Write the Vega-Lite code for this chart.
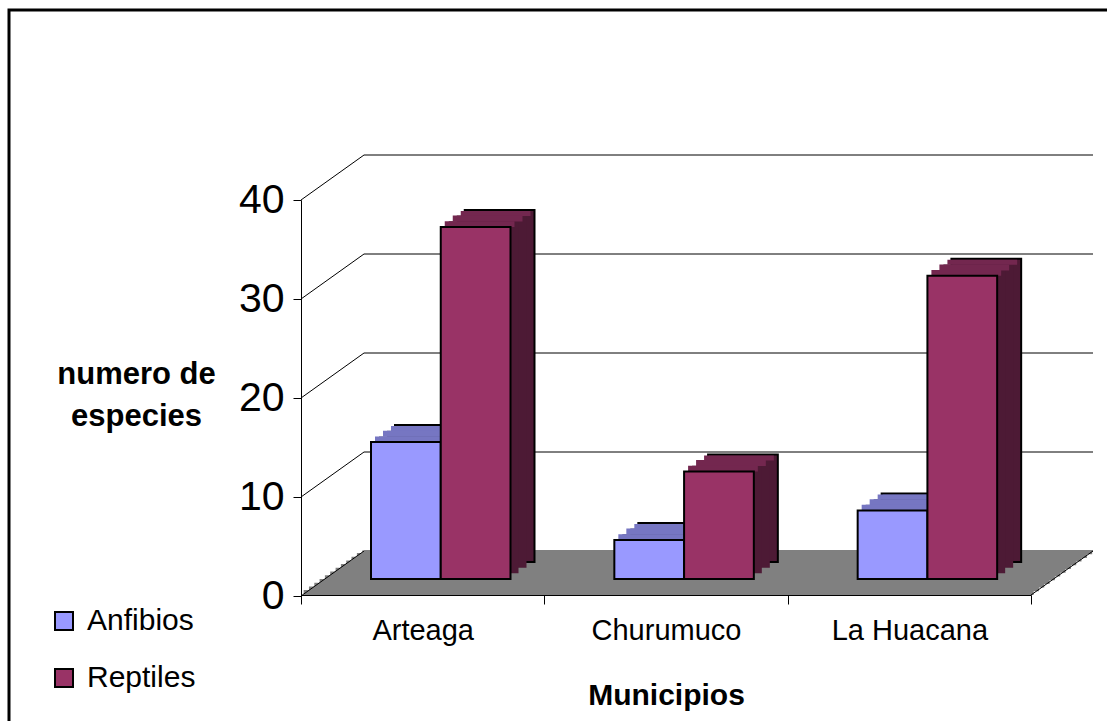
{
  "$schema": "https://vega.github.io/schema/vega-lite/v6.json",
  "autosize": {"type": "none"},
  "padding": {"left": 9, "top": 10, "right": -4, "bottom": -4},
  "width": 1102,
  "height": 715,
  "background": "white",
  "config": {
    "font": "Liberation Sans",
    "view": {"stroke": "black", "strokeWidth": 3}
  },
  "datasets": {
    "main": [
      {"municipio": "Arteaga", "serie": "Anfibios", "especies": 14},
      {"municipio": "Arteaga", "serie": "Reptiles", "especies": 36},
      {"municipio": "Churumuco", "serie": "Anfibios", "especies": 4},
      {"municipio": "Churumuco", "serie": "Reptiles", "especies": 11},
      {"municipio": "La Huacana", "serie": "Anfibios", "especies": 7},
      {"municipio": "La Huacana", "serie": "Reptiles", "especies": 31}
    ],
    "ticks": [{"v": 0}, {"v": 10}, {"v": 20}, {"v": 30}, {"v": 40}],
    "one": [{"k": 1}]
  },
  "layer": [
    {
      "layer": [
        {
          "data": {"name": "ticks"},
          "mark": {"type": "rule", "stroke": "black", "strokeWidth": 1, "xOffset": 63, "x2Offset": 62, "yOffset": -45},
          "encoding": {
            "x": {
              "datum": "Arteaga", "bandPosition": 0,
              "scale": {"type": "band", "domain": ["Arteaga", "Churumuco", "La Huacana"], "range": [292, 1022], "paddingInner": 0, "paddingOuter": 0},
              "axis": {
                "orient": "bottom", "offset": -130, "title": "Municipios",
                "titleFontSize": 30, "titleFontWeight": "bold", "titleColor": "black",
                "titleY": 109, "titleBaseline": "alphabetic",
                "labelFontSize": 29, "labelColor": "black", "labelPadding": 12, "labelAngle": 0,
                "tickBand": "extent",
                "tickSize": 9, "tickColor": "black", "domainColor": "black", "domainWidth": 1,
                "grid": false, "zindex": 1
              }
            },
            "x2": {"datum": "La Huacana", "bandPosition": 1},
            "y": {
              "field": "v", "type": "quantitative",
              "scale": {"domain": [0, 40], "range": [586, 190], "nice": false, "zero": false},
              "axis": {
                "orient": "left", "offset": -292, "values": [0, 10, 20, 30, 40],
                "title": ["numero de", "especies"], "titleAngle": 0, "titleAlign": "center",
                "titleBaseline": "alphabetic", "titleX": -165, "titleY": 373,
                "titleFontSize": 31, "titleFontWeight": "bold", "titleLineHeight": 42, "titleColor": "black",
                "labelFontSize": 41, "labelPadding": 9, "labelColor": "black",
                "tickSize": 8, "tickColor": "black", "domainColor": "black",
                "grid": false, "zindex": 1
              }
            }
          }
        },
        {"data": {"name": "one"}, "mark": {"type": "rect", "fill": "#808080", "xOffset": 2.65, "x2Offset": 2.65, "yOffset": -5.9, "y2Offset": -1},
         "encoding": {"x": {"datum": "Arteaga", "bandPosition": 0}, "x2": {"datum": "La Huacana", "bandPosition": 1}, "y": {"datum": 0, "type": "quantitative"}, "y2": {"datum": 0}}},
        {"data": {"name": "one"}, "mark": {"type": "rect", "fill": "#808080", "xOffset": 7.95, "x2Offset": 7.95, "yOffset": -9.6, "y2Offset": -4.7},
         "encoding": {"x": {"datum": "Arteaga", "bandPosition": 0}, "x2": {"datum": "La Huacana", "bandPosition": 1}, "y": {"datum": 0, "type": "quantitative"}, "y2": {"datum": 0}}},
        {"data": {"name": "one"}, "mark": {"type": "rect", "fill": "#808080", "xOffset": 13.3, "x2Offset": 13.3, "yOffset": -13.3, "y2Offset": -8.4},
         "encoding": {"x": {"datum": "Arteaga", "bandPosition": 0}, "x2": {"datum": "La Huacana", "bandPosition": 1}, "y": {"datum": 0, "type": "quantitative"}, "y2": {"datum": 0}}},
        {"data": {"name": "one"}, "mark": {"type": "rect", "fill": "#808080", "xOffset": 18.6, "x2Offset": 18.6, "yOffset": -17.0, "y2Offset": -12.1},
         "encoding": {"x": {"datum": "Arteaga", "bandPosition": 0}, "x2": {"datum": "La Huacana", "bandPosition": 1}, "y": {"datum": 0, "type": "quantitative"}, "y2": {"datum": 0}}},
        {"data": {"name": "one"}, "mark": {"type": "rect", "fill": "#808080", "xOffset": 23.9, "x2Offset": 23.9, "yOffset": -20.7, "y2Offset": -15.8},
         "encoding": {"x": {"datum": "Arteaga", "bandPosition": 0}, "x2": {"datum": "La Huacana", "bandPosition": 1}, "y": {"datum": 0, "type": "quantitative"}, "y2": {"datum": 0}}},
        {"data": {"name": "one"}, "mark": {"type": "rect", "fill": "#808080", "xOffset": 29.2, "x2Offset": 29.2, "yOffset": -24.4, "y2Offset": -19.5},
         "encoding": {"x": {"datum": "Arteaga", "bandPosition": 0}, "x2": {"datum": "La Huacana", "bandPosition": 1}, "y": {"datum": 0, "type": "quantitative"}, "y2": {"datum": 0}}},
        {"data": {"name": "one"}, "mark": {"type": "rect", "fill": "#808080", "xOffset": 34.6, "x2Offset": 34.6, "yOffset": -28.2, "y2Offset": -23.2},
         "encoding": {"x": {"datum": "Arteaga", "bandPosition": 0}, "x2": {"datum": "La Huacana", "bandPosition": 1}, "y": {"datum": 0, "type": "quantitative"}, "y2": {"datum": 0}}},
        {"data": {"name": "one"}, "mark": {"type": "rect", "fill": "#808080", "xOffset": 39.9, "x2Offset": 39.9, "yOffset": -31.9, "y2Offset": -27.0},
         "encoding": {"x": {"datum": "Arteaga", "bandPosition": 0}, "x2": {"datum": "La Huacana", "bandPosition": 1}, "y": {"datum": 0, "type": "quantitative"}, "y2": {"datum": 0}}},
        {"data": {"name": "one"}, "mark": {"type": "rect", "fill": "#808080", "xOffset": 45.2, "x2Offset": 45.2, "yOffset": -35.6, "y2Offset": -30.7},
         "encoding": {"x": {"datum": "Arteaga", "bandPosition": 0}, "x2": {"datum": "La Huacana", "bandPosition": 1}, "y": {"datum": 0, "type": "quantitative"}, "y2": {"datum": 0}}},
        {"data": {"name": "one"}, "mark": {"type": "rect", "fill": "#808080", "xOffset": 50.5, "x2Offset": 50.5, "yOffset": -39.3, "y2Offset": -34.4},
         "encoding": {"x": {"datum": "Arteaga", "bandPosition": 0}, "x2": {"datum": "La Huacana", "bandPosition": 1}, "y": {"datum": 0, "type": "quantitative"}, "y2": {"datum": 0}}},
        {"data": {"name": "one"}, "mark": {"type": "rect", "fill": "#808080", "xOffset": 55.9, "x2Offset": 55.9, "yOffset": -43.0, "y2Offset": -38.1},
         "encoding": {"x": {"datum": "Arteaga", "bandPosition": 0}, "x2": {"datum": "La Huacana", "bandPosition": 1}, "y": {"datum": 0, "type": "quantitative"}, "y2": {"datum": 0}}},
        {"data": {"name": "one"}, "mark": {"type": "rect", "fill": "#808080", "xOffset": 61.2, "x2Offset": 61.2, "yOffset": -45.5, "y2Offset": -41.8},
         "encoding": {"x": {"datum": "Arteaga", "bandPosition": 0}, "x2": {"datum": "La Huacana", "bandPosition": 1}, "y": {"datum": 0, "type": "quantitative"}, "y2": {"datum": 0}}},
        {
          "data": {"name": "ticks"},
          "mark": {"type": "rule", "stroke": "black", "strokeWidth": 1, "x2Offset": 63, "y2Offset": -45},
          "encoding": {
            "x": {"datum": "Arteaga", "bandPosition": 0},
            "x2": {"datum": "Arteaga", "bandPosition": 0},
            "y": {"field": "v", "type": "quantitative"},
            "y2": {"field": "v"}
          }
        },
        {
          "data": {"name": "one"},
          "mark": {"type": "rule", "stroke": "black", "strokeWidth": 1, "x2Offset": 62, "yOffset": -1, "y2Offset": -45},
          "encoding": {
            "x": {"datum": "La Huacana", "bandPosition": 1},
            "x2": {"datum": "La Huacana", "bandPosition": 1},
            "y": {"datum": 0, "type": "quantitative"},
            "y2": {"datum": 0}
          }
        }
      ]
    },
    {
      "data": {"name": "main"},
      "layer": [
        {
          "mark": {"type": "bar", "stroke": "black", "strokeWidth": 2, "yOffset": -17, "y2Offset": -17},
          "encoding": {
            "x": {"field": "municipio", "type": "nominal"},
            "xOffset": {"field": "serie", "type": "nominal", "scale": {"domain": ["Anfibios", "Reptiles"], "range": [94, 233.5], "paddingInner": 0, "paddingOuter": 0}},
            "y": {"field": "especies", "type": "quantitative", "scale": {"domain": [0, 40], "range": [569, 177.8], "nice": false, "zero": false}, "axis": null},
            "y2": {"datum": 0},
            "fill": {"condition": {"test": "datum.serie === 'Anfibios'", "value": "#4d4d80"}, "value": "#4d1a35"}
          }
        },
        {
          "mark": {"type": "bar", "strokeWidth": 0, "yOffset": -11.3, "y2Offset": -11.3},
          "encoding": {
            "x": {"field": "municipio", "type": "nominal"},
            "xOffset": {"field": "serie", "type": "nominal", "scale": {"domain": ["Anfibios", "Reptiles"], "range": [86, 225.5], "paddingInner": 0, "paddingOuter": 0}},
            "y": {"field": "especies", "type": "quantitative", "axis": null},
            "y2": {"datum": 0},
            "fill": {"condition": {"test": "datum.serie === 'Anfibios'", "value": "#4d4d80"}, "value": "#4d1a35"}
          }
        },
        {
          "mark": {"type": "bar", "strokeWidth": 0, "yOffset": -5.7, "y2Offset": -5.7},
          "encoding": {
            "x": {"field": "municipio", "type": "nominal"},
            "xOffset": {"field": "serie", "type": "nominal", "scale": {"domain": ["Anfibios", "Reptiles"], "range": [78, 217.5], "paddingInner": 0, "paddingOuter": 0}},
            "y": {"field": "especies", "type": "quantitative", "axis": null},
            "y2": {"datum": 0},
            "fill": {"condition": {"test": "datum.serie === 'Anfibios'", "value": "#4d4d80"}, "value": "#4d1a35"}
          }
        },
        {
          "mark": {"type": "bar", "strokeWidth": 0, "yOffset": -16, "y2Offset": -11},
          "encoding": {
            "x": {"field": "municipio", "type": "nominal"},
            "xOffset": {"field": "serie", "type": "nominal", "scale": {"domain": ["Anfibios", "Reptiles"], "range": [90, 229.5], "paddingInner": 0, "paddingOuter": 0}},
            "y": {"field": "especies", "type": "quantitative", "axis": null},
            "y2": {"field": "especies"},
            "fill": {"condition": {"test": "datum.serie === 'Anfibios'", "value": "#7676c2"}, "value": "#73274f"}
          }
        },
        {
          "mark": {"type": "bar", "strokeWidth": 0, "yOffset": -11.3, "y2Offset": -5.4},
          "encoding": {
            "x": {"field": "municipio", "type": "nominal"},
            "xOffset": {"field": "serie", "type": "nominal", "scale": {"domain": ["Anfibios", "Reptiles"], "range": [82, 221.5], "paddingInner": 0, "paddingOuter": 0}},
            "y": {"field": "especies", "type": "quantitative", "axis": null},
            "y2": {"field": "especies"},
            "fill": {"condition": {"test": "datum.serie === 'Anfibios'", "value": "#7676c2"}, "value": "#73274f"}
          }
        },
        {
          "mark": {"type": "bar", "strokeWidth": 0, "yOffset": -5.7, "y2Offset": 0},
          "encoding": {
            "x": {"field": "municipio", "type": "nominal"},
            "xOffset": {"field": "serie", "type": "nominal", "scale": {"domain": ["Anfibios", "Reptiles"], "range": [74, 213.5], "paddingInner": 0, "paddingOuter": 0}},
            "y": {"field": "especies", "type": "quantitative", "axis": null},
            "y2": {"field": "especies"},
            "fill": {"condition": {"test": "datum.serie === 'Anfibios'", "value": "#7676c2"}, "value": "#73274f"}
          }
        },
        {
          "mark": {"type": "bar", "stroke": "black", "strokeWidth": 2},
          "encoding": {
            "x": {"field": "municipio", "type": "nominal"},
            "xOffset": {"field": "serie", "type": "nominal", "scale": {"domain": ["Anfibios", "Reptiles"], "range": [70, 209.5], "paddingInner": 0, "paddingOuter": 0}},
            "y": {"field": "especies", "type": "quantitative", "axis": null},
            "y2": {"datum": 0},
            "color": {
              "field": "serie", "type": "nominal",
              "scale": {"domain": ["Anfibios", "Reptiles"], "range": ["#9999ff", "#993366"]},
              "legend": {
                "orient": "none", "legendX": 40, "legendY": 596, "title": null, "padding": 0,
                "symbolType": "square", "symbolSize": 324, "symbolStrokeColor": "black", "symbolStrokeWidth": 2,
                "labelFontSize": 30, "labelColor": "black", "labelOffset": 8, "rowPadding": 27
              }
            }
          }
        }
      ],
      "resolve": {"scale": {"xOffset": "independent"}}
    }
  ],
  "resolve": {"scale": {"y": "independent"}}
}
